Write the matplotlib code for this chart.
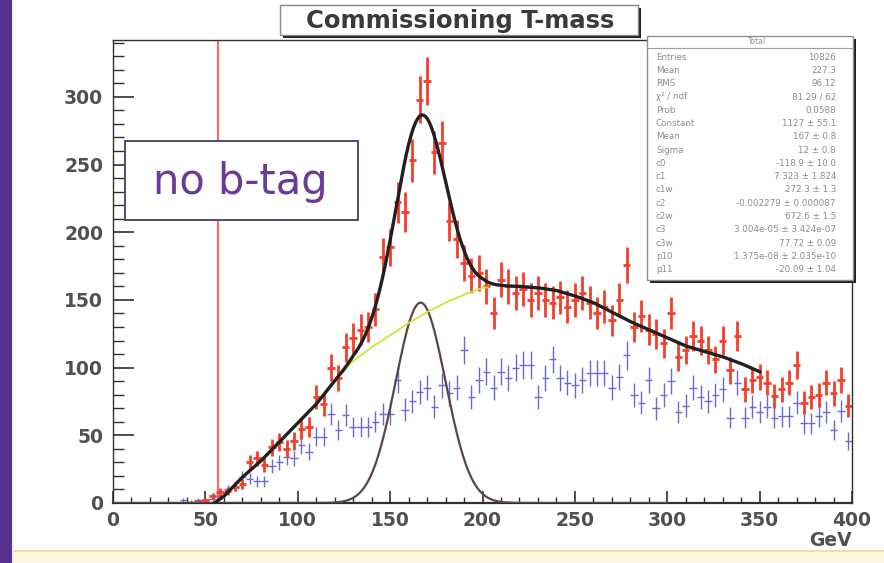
import numpy as np
import matplotlib
matplotlib.use("Agg")
import matplotlib.pyplot as plt
from matplotlib.patches import Rectangle

# ---------------- data ----------------
bin_edges = np.linspace(0, 400, 101)          # 100 bins of 4 GeV
red_counts = [0, 0, 0, 0, 0, 0, 0, 0, 0, 0,
              0, 1, 2, 5, 8, 9, 12, 14, 30, 33,
              28, 41, 45, 40, 46, 55, 56, 78, 73, 100,
              92, 115, 122, 128, 130, 143, 182, 189, 222, 215,
              253, 298, 312, 259, 266, 208, 195, 177, 168, 170,
              160, 140, 165, 160, 155, 158, 150, 155, 150, 148,
              152, 145, 150, 155, 148, 140, 145, 135, 150, 176,
              130, 138, 128, 125, 118, 140, 108, 113, 123, 120,
              113, 106, 120, 98, 123, 84, 91, 93, 89, 79,
              84, 89, 102, 74, 78, 80, 89, 81, 91, 72]
blue_counts = [0, 0, 0, 0, 0, 0, 0, 0, 0, 2,
               1, 2, 2, 3, 5, 10, 12, 19, 18, 16,
               16, 27, 30, 34, 33, 43, 38, 49, 49, 66,
               54, 65, 56, 56, 56, 60, 66, 66, 91, 69,
               75, 82, 85, 71, 87, 81, 85, 113, 78, 91,
               97, 85, 97, 92, 100, 102, 102, 78, 92, 106,
               92, 89, 87, 91, 96, 96, 96, 85, 93, 109,
               80, 74, 91, 70, 80, 90, 67, 72, 85, 78,
               75, 80, 84, 63, 89, 63, 71, 67, 71, 63,
               64, 64, 74, 59, 59, 64, 67, 54, 68, 46]

# background fit (yellow)
bg_x = [55, 60, 70, 80, 90, 100, 110, 120, 130, 140, 150, 160, 170, 180, 190,
        200, 210, 220, 230, 240, 250, 260, 270, 280, 290, 300, 310, 320, 330, 340, 350]
bg_y = [0, 5, 19, 31, 45, 59, 73, 90, 105, 115, 124, 133, 141, 148, 154,
        159, 160, 160, 159, 157, 153, 148, 141, 134, 128, 122, 116, 112, 108, 103, 97]
bg_visible_end = 203
# gaussian signal component
gaus_const, gaus_mean, gaus_sigma = 148.0, 166.5, 13.5
gaus_range = (0, 300)
cut_line = 57

stats_title = "Total"
stats_rows = [("Entries", "10826"), ("Mean", "227.3"), ("RMS", "96.12"),
              ("\u03c7\u00b2 / ndf", "81.29 / 62"), ("Prob", "0.0588"),
              ("Constant", "1127 \u00b1 55.1"), ("Mean", "167 \u00b1 0.8"),
              ("Sigma", "12 \u00b1 0.8"), ("c0", "-118.9 \u00b1 10.0"),
              ("c1", "7.323 \u00b1 1.824"), ("c1w", "272.3 \u00b1 1.3"),
              ("c2", "-0.002279 \u00b1 0.000087"), ("c2w", "672.6 \u00b1 1.5"),
              ("c3", "3.004e-05 \u00b1 3.424e-07"), ("c3w", "77.72 \u00b1 0.09"),
              ("p10", "1.375e-08 \u00b1 2.035e-10"), ("p11", "-20.09 \u00b1 1.04")]
title = "Commissioning T-mass"
box_label = "no b-tag"
x_unit = "GeV"

# ---------------- figure ----------------
W, H = 884, 563
fig = plt.figure(figsize=(W / 100, H / 100), dpi=100)
fig.patch.set_facecolor("white")

def fxy(x, y):
    return x / W, 1 - y / H

# purple left strip and pale bottom strip
fig.patches.append(Rectangle((0, 0), 12 / W, 1, transform=fig.transFigure,
                             facecolor="#55308c", edgecolor="none", zorder=0))
fig.patches.append(Rectangle((12 / W, 0), 2 / W, 1, transform=fig.transFigure,
                             facecolor="#fbefd6", edgecolor="none", zorder=0))
fig.patches.append(Rectangle((14 / W, 0), 1 - 14 / W, 11 / H, transform=fig.transFigure,
                             facecolor="#fdf6e2", edgecolor="none", zorder=0))
fig.patches.append(Rectangle((14 / W, 11 / H), 1 - 14 / W, 2 / H, transform=fig.transFigure,
                             facecolor="#f7dc9c", edgecolor="none", zorder=0))

ax = fig.add_axes([113 / W, 1 - 503 / H, (852 - 113) / W, (503 - 40) / H])
ax.set_xlim(0, 400)
ax.set_ylim(0, 342)

centers = 0.5 * (bin_edges[:-1] + bin_edges[1:])
halfw = 0.5 * np.diff(bin_edges)
red = np.array(red_counts, float)
blue = np.array(blue_counts, float)

mb = blue > 0
ax.errorbar(centers[mb], blue[mb], yerr=np.sqrt(blue[mb]), xerr=halfw[mb],
            fmt="none", ecolor="#6a6ad0", elinewidth=1.0, capsize=0, zorder=2)
mr = red > 0
ax.errorbar(centers[mr], red[mr], yerr=np.sqrt(red[mr]), xerr=halfw[mr],
            fmt="none", ecolor="#f2402c", elinewidth=2.0, capsize=0, zorder=3)

# gaussian component
xg = np.linspace(gaus_range[0], gaus_range[1], 600)
gy = gaus_const * np.exp(-0.5 * ((xg - gaus_mean) / gaus_sigma) ** 2)
ax.plot(xg, gy, color="#5a4646", lw=1.6, zorder=4)

# background (yellow) and total (black)
xf = np.linspace(bg_x[0], bg_x[-1], 700)
bgf = np.interp(xf, bg_x, bg_y)
tot = bgf + gaus_const * np.exp(-0.5 * ((xf - gaus_mean) / gaus_sigma) ** 2)
vis = xf <= bg_visible_end
ax.plot(xf[vis], bgf[vis], color="#cde43a", lw=1.3, zorder=5)
ax.plot(xf, tot, color="#202020", lw=2.4, zorder=6)

ax.axvline(cut_line, color="#f07070", lw=1.6, zorder=1)

# axes style (ROOT-like)
for s in ["left", "bottom", "top", "right"]:
    ax.spines[s].set_color("#303030")
    ax.spines[s].set_linewidth(1.0)
ax.spines["bottom"].set_linewidth(1.6)
ax.set_xticks(np.arange(0, 401, 50))
ax.set_xticks(np.arange(0, 401, 10), minor=True)
ax.set_yticks(np.arange(0, 301, 50))
ax.set_yticks(np.arange(0, 341, 10), minor=True)
ax.tick_params(axis="y", which="major", direction="in", length=15, width=1.2,
               color="#303030", pad=7)
ax.tick_params(axis="y", which="minor", direction="in", length=8, width=1.0,
               color="#303030")
ax.tick_params(axis="x", which="major", direction="in", length=9, width=1.2,
               color="#303030", pad=6)
ax.tick_params(axis="x", which="minor", direction="in", length=4, width=1.0,
               color="#303030")
for lab in ax.get_xticklabels() + ax.get_yticklabels():
    lab.set_fontsize(13.5)
    lab.set_fontweight("bold")
    lab.set_color("#505050")

fig.text(*fxy(852, 540), x_unit, ha="right", va="center", fontsize=13.5,
         fontweight="bold", color="#505050")

# title box
def shadow_box(x0, y0, x1, y1, edge="#888888", shadow="#202020", sh=3, lw=1.0, z=10):
    fig.patches.append(Rectangle(fxy(x0 + sh, y1 + sh), (x1 - x0) / W, (y1 - y0) / H,
                                 transform=fig.transFigure, facecolor=shadow,
                                 edgecolor="none", zorder=z))
    fig.patches.append(Rectangle(fxy(x0, y1), (x1 - x0) / W, (y1 - y0) / H,
                                 transform=fig.transFigure, facecolor="white",
                                 edgecolor=edge, lw=lw, zorder=z + 0.1))

shadow_box(280, 5, 638, 35)
fig.text(*fxy(460, 21), title, ha="center", va="center", fontsize=17.5,
         fontweight="bold", color="#3a3a3a", zorder=12)

# stats box
shadow_box(647, 36, 853, 280, edge="#a08890", sh=3)
fig.text(*fxy(757, 42), stats_title, ha="center", va="center", fontsize=5.5,
         color="#909090", zorder=12)
fig.lines.append(plt.Line2D([fxy(647, 0)[0], fxy(853, 0)[0]], [fxy(0, 48)[1]] * 2,
                            transform=fig.transFigure, color="#a0a0a0", lw=0.8, zorder=12))
for i, (k, v) in enumerate(stats_rows):
    yy = 57 + i * 13.3
    fig.text(*fxy(656, yy), k, ha="left", va="center", fontsize=6.3,
             color="#8c8c8c", zorder=12)
    fig.text(*fxy(836, yy), v, ha="right", va="center", fontsize=6.3,
             color="#8c8c8c", zorder=12)

# "no b-tag" box
fig.patches.append(Rectangle(fxy(125, 220), (358 - 125) / W, (220 - 141) / H,
                             transform=fig.transFigure, facecolor="white",
                             edgecolor="#4a3a6a", lw=1.3, zorder=10))
fig.text(*fxy(240, 182), box_label, ha="center", va="center", fontsize=30,
         color="#6a3c98", zorder=12)

fig.savefig("out.png", dpi=100)
